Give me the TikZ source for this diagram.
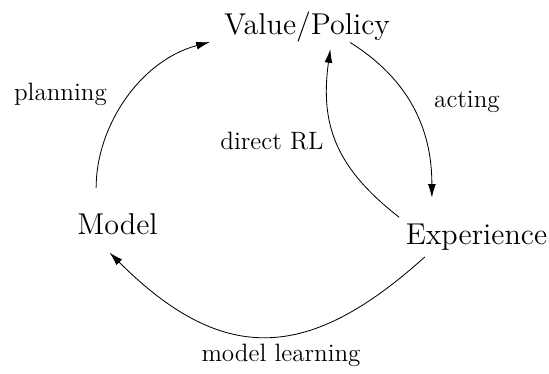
\documentclass[tikz,border=0pt]{standalone}
\usetikzlibrary{arrows.meta}
\begin{document}
\begin{tikzpicture}[inner sep=3pt, stage/.style={font=\Large, anchor=base}, lbl/.style={font=\large, anchor=base}, flow/.style={-{Latex[length=6.5pt,width=3.8pt]}}]

\useasboundingbox (0,0) rectangle (9.229,6.287);
%\draw[black!20] (0,0) grid (9,6);
\node(value) at (5.161,5.699) [stage] {Value/Policy};
\node(model) at (1.975,2.337) [stage] {Model};
\node(experience) at (8.010,2.177) [stage] {Experience};

\draw[flow, shorten <=9.5pt, shorten >=3.8pt] (model.141) to[out=90, in=195] (value.188);
\draw[flow, shorten <=-6pt, shorten >=9.4pt] (value.-22) to[out=-32, in=90] (experience.156);
\draw[flow] (experience.north west) to[out=142, in=262, looseness=1.1] (value.-43);
\draw[flow, shorten >=7.2pt] (experience.201) to[out=222, in=315, out looseness=1.2, in looseness=1.4] (model.223);

\node(planning) at (1.017,4.589) [lbl] {planning};
\node(acting) at (7.850,4.488) [lbl] {acting};
\node(direct) at (4.572,3.782) [lbl] {direct RL};
\node(learning) at (4.724,0.202) [lbl] {model learning};

\end{tikzpicture}
\end{document}
